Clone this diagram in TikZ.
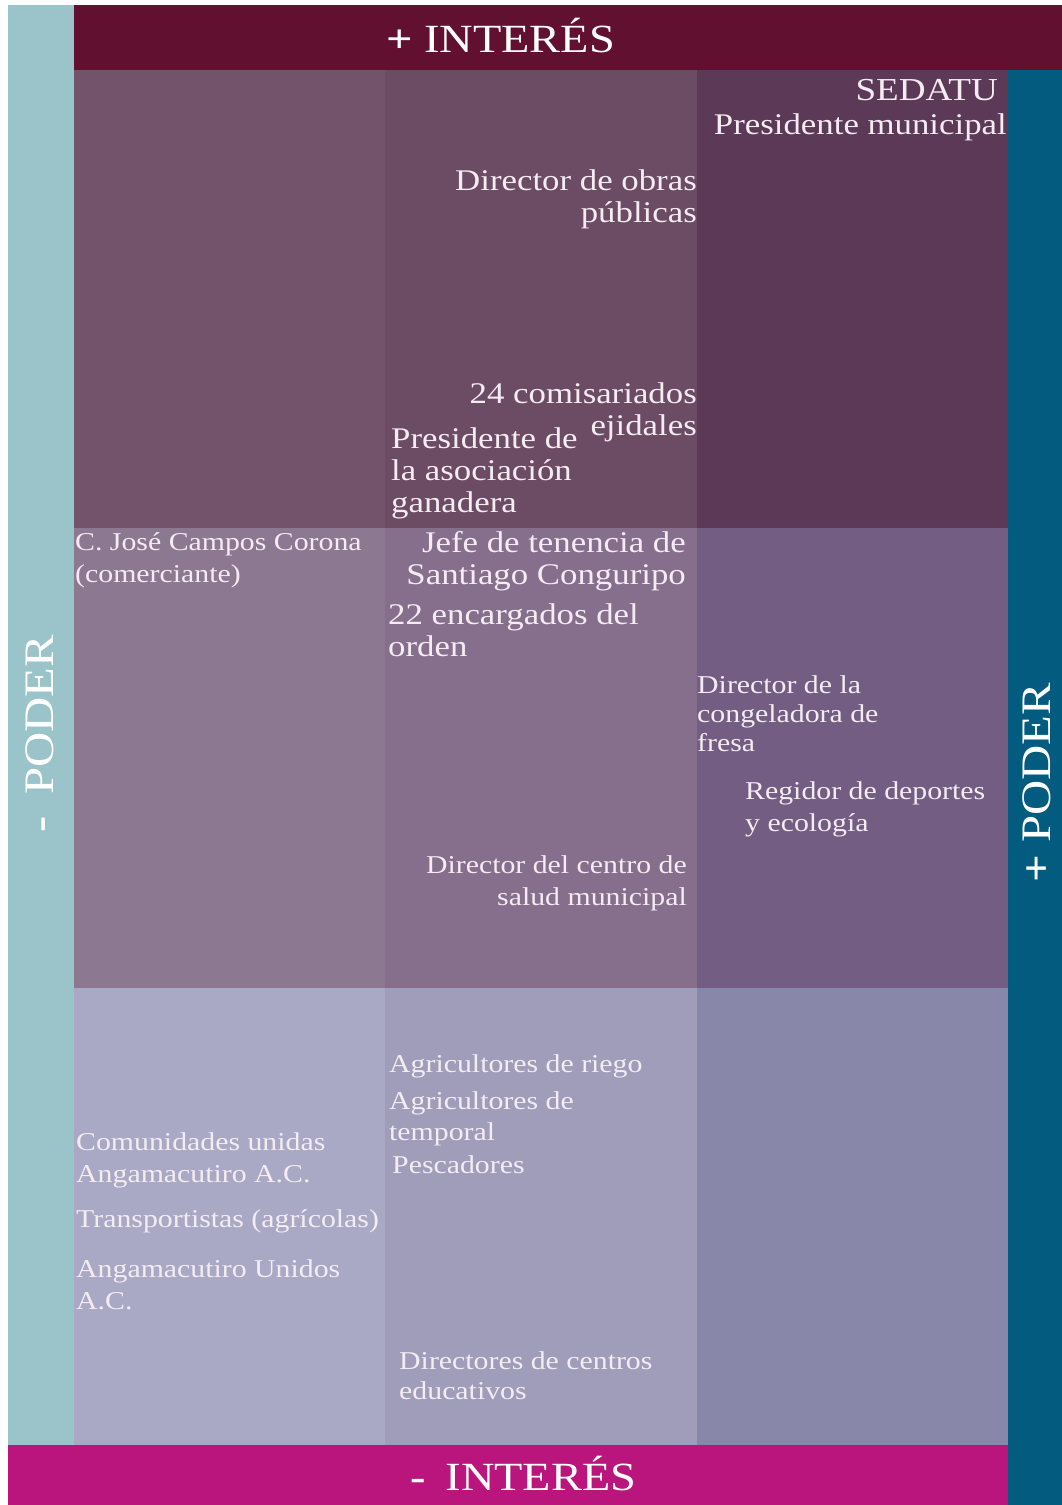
\documentclass[tikz,border=0pt]{standalone}
\usepackage{fontspec}
\setmainfont[FakeStretch=1.16]{Liberation Serif}
\newfontfamily\bigfont[FakeStretch=1.16]{Liberation Serif}
\definecolor{topband}{HTML}{621030}
\definecolor{botband}{HTML}{BA157D}
\definecolor{leftstrip}{HTML}{9BC3CA}
\definecolor{rightstrip}{HTML}{035B80}
\definecolor{cAa}{HTML}{73536B}
\definecolor{cAb}{HTML}{6C4B64}
\definecolor{cAc}{HTML}{5C3957}
\definecolor{cBa}{HTML}{8D7892}
\definecolor{cBb}{HTML}{866E8D}
\definecolor{cBc}{HTML}{735D82}
\definecolor{cCa}{HTML}{A9A9C5}
\definecolor{cCb}{HTML}{9F9DBA}
\definecolor{cCc}{HTML}{8886A9}
\definecolor{txt}{HTML}{F4ECF2}
\begin{document}
\begin{tikzpicture}[x=1pt,y=-1pt,
  lbl/.style={font=\fontsize{30}{32}\selectfont, text=txt, inner sep=0pt, align=left, anchor=base west},
  rlbl/.style={font=\fontsize{30}{32}\selectfont, text=txt, inner sep=0pt, align=right, anchor=base east},
  slbl/.style={font=\fontsize{25.7}{31}\selectfont, text=txt, inner sep=0pt, align=left, anchor=base west},
  srlbl/.style={font=\fontsize{25.7}{31}\selectfont, text=txt, inner sep=0pt, align=right, anchor=base east},
  axis/.style={font=\bigfont\fontsize{40}{44}\selectfont, text=white, inner sep=0pt},
  vaxis/.style={font=\bigfont\fontsize{42}{46}\selectfont, text=white, inner sep=0pt, rotate=90}]
\useasboundingbox (0,0) rectangle (1062,1505);
\fill[white] (0,0) rectangle (1062,1505);
% bands
\fill[leftstrip] (8,5) rectangle (74,1445);
\fill[topband] (74,5) rectangle (1062,70);
\fill[rightstrip] (1008,70) rectangle (1062,1505);
\fill[botband] (8,1445) rectangle (1008,1505);
% grid
\fill[cAa] (74,70) rectangle (385,528);
\fill[cAb] (385,70) rectangle (697,528);
\fill[cAc] (697,70) rectangle (1008,528);
\fill[cBa] (74,528) rectangle (385,988);
\fill[cBb] (385,528) rectangle (697,988);
\fill[cBc] (697,528) rectangle (1008,988);
\fill[cCa] (74,988) rectangle (385,1445);
\fill[cCb] (385,988) rectangle (697,1445);
\fill[cCc] (697,988) rectangle (1008,1445);
% axis labels
\node[axis, anchor=base west] (masint) at (386,52) {\textbf{+} INTERÉS};
\node[axis, anchor=base west] (menosint) at (410,1490) {\textbf{-}\hspace{20pt}INTERÉS};
\node[vaxis, anchor=base west] (menospod) at (53,833) {\textbf{-}\hspace{22pt}PODER};
\node[vaxis, anchor=base west] (maspod) at (1050,883) {\textbf{+} PODER};
% stakeholders (anchor = baseline of last line)
\node[rlbl, font=\fontsize{32}{34}\selectfont] (sedatu) at (998,100) {SEDATU};
\node[rlbl] (presmun) at (1007,134) {Presidente municipal};
\node[rlbl] (dirobras) at (697,222) {Director de obras\\públicas};
\node[rlbl] (comis) at (697,435) {24 comisariados\\ejidales};
\node[lbl] (presgan) at (391,512) {Presidente de\\la asociación\\ganadera};
\node[slbl, font=\fontsize{25.7}{32}\selectfont] (jose) at (75,582) {C. José Campos Corona\\(comerciante)};
\node[rlbl] (jefe) at (686,584) {Jefe de tenencia de\\Santiago Conguripo};
\node[lbl] (encarg) at (388,656) {22 encargados del\\orden};
\node[slbl, font=\fontsize{25.7}{29}\selectfont] (congel) at (697,751) {Director de la\\congeladora de\\fresa};
\node[slbl, font=\fontsize{25.7}{32}\selectfont] (regidor) at (745,831) {Regidor de deportes\\y ecología};
\node[srlbl, font=\fontsize{25.7}{32}\selectfont] (salud) at (687,905) {Director del centro de\\salud municipal};
\node[slbl] (riego) at (389,1072) {Agricultores de riego};
\node[slbl, font=\fontsize{25.7}{31}\selectfont] (temporal) at (389,1140) {Agricultores de\\temporal};
\node[slbl] (pesc) at (392,1173) {Pescadores};
\node[slbl, font=\fontsize{25.7}{32}\selectfont] (comun) at (76,1182) {Comunidades unidas\\Angamacutiro A.C.};
\node[slbl] (transp) at (76,1227) {Transportistas (agrícolas)};
\node[slbl, font=\fontsize{25.7}{32}\selectfont] (unidos) at (76,1309) {Angamacutiro Unidos\\A.C.};
\node[slbl, font=\fontsize{25.7}{30}\selectfont] (educ) at (399,1399) {Directores de centros\\educativos};
\end{tikzpicture}
\end{document}
